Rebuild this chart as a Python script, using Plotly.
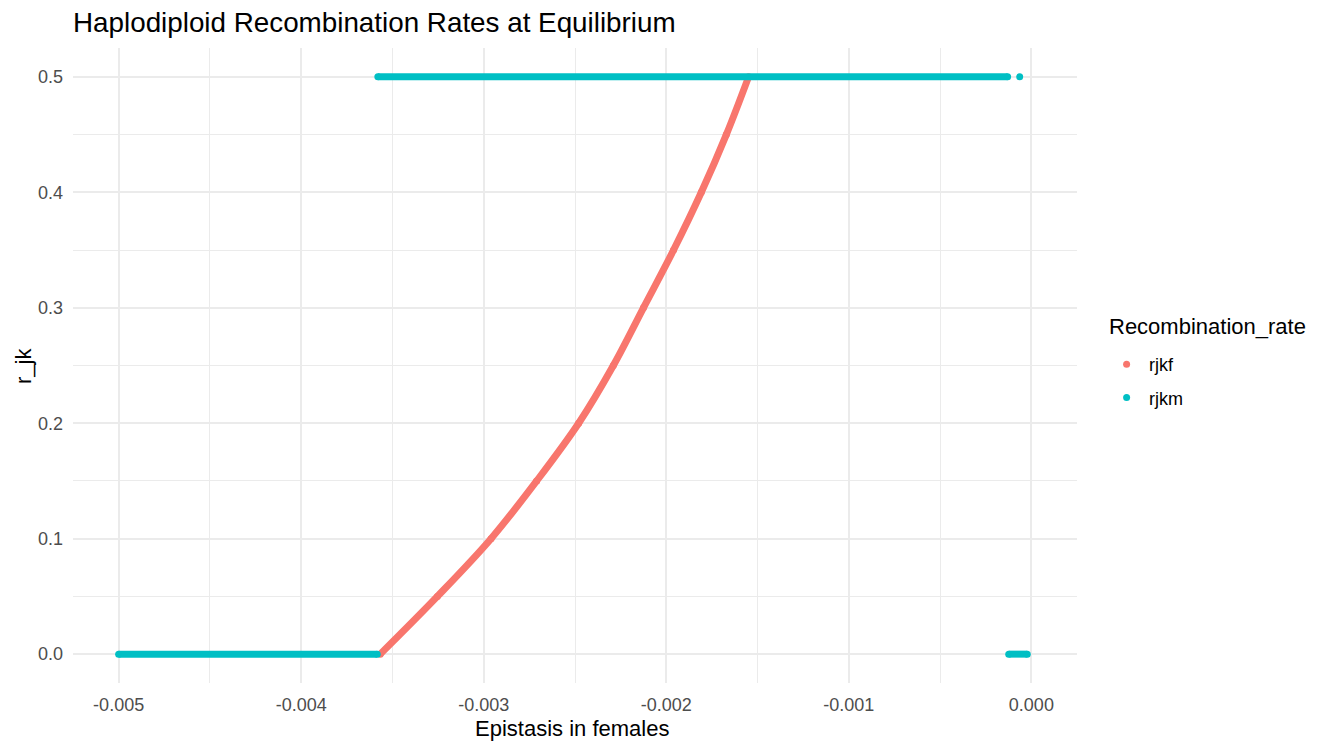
import plotly.graph_objects as go

# ---- data ----
# rjkf: the rising curve (x = epistasis in females, y = r_jk)
rjkf_x = [-0.003567, -0.003254, -0.002960, -0.002710, -0.002480, -0.002290,
          -0.002125, -0.001960, -0.001808, -0.001671, -0.001549]
rjkf_y = [0.0, 0.05, 0.10, 0.15, 0.20, 0.25, 0.30, 0.35, 0.40, 0.45, 0.50]

# rjkm: flat segments (None separates segments)
rjkm_x = [-0.005, -0.003583, None, -0.00358, -0.00013, None, -0.000064, None, -0.000124, -0.0000225]
rjkm_y = [0.0, 0.0, None, 0.5, 0.5, None, 0.5, None, 0.0, 0.0]

series_names = ["rjkf", "rjkm"]
legend_title = "Recombination_rate"
x_title = "Epistasis in females"
y_title = "r_jk"

x_tickvals = [-0.005, -0.004, -0.003, -0.002, -0.001, 0.0]
x_ticktext = ["-0.005", "-0.004", "-0.003", "-0.002", "-0.001", "0.000"]
y_tickvals = [0.0, 0.1, 0.2, 0.3, 0.4, 0.5]
y_ticktext = ["0.0", "0.1", "0.2", "0.3", "0.4", "0.5"]

col_f = "#F8766D"
col_m = "#00BFC4"
FONT = "Liberation Sans, Arial, sans-serif"

# plot-area geometry in pixels
L, R, T, B = 73, 1077, 48, 683

fig = go.Figure()
fig.add_trace(go.Scatter(x=rjkf_x, y=rjkf_y, mode="lines",
                         line=dict(color=col_f, width=7, shape="spline", smoothing=1.0),
                         showlegend=False, legendgroup="f", hoverinfo="skip"))
fig.add_trace(go.Scatter(x=rjkf_x, y=rjkf_y, mode="markers", name=series_names[0],
                         marker=dict(color=col_f, size=7), legendgroup="f"))
fig.add_trace(go.Scatter(x=rjkm_x, y=rjkm_y, mode="lines",
                         line=dict(color=col_m, width=7),
                         showlegend=False, legendgroup="m", hoverinfo="skip"))
fig.add_trace(go.Scatter(x=rjkm_x, y=rjkm_y, mode="markers", name=series_names[1],
                         marker=dict(color=col_m, size=7), legendgroup="m"))

pw, ph = R - L, B - T
fig.add_annotation(text=legend_title, xref="paper", yref="paper",
                   x=(1107 - L) / pw, y=(B - 327) / ph,
                   xanchor="left", yanchor="middle", showarrow=False,
                   font=dict(size=22, color="black", family=FONT))
fig.add_annotation(text=x_title, xref="paper", yref="paper",
                   x=0.497, y=(B - 728) / ph,
                   xanchor="center", yanchor="middle", showarrow=False,
                   font=dict(size=22, color="black", family=FONT))
fig.add_annotation(text=y_title, xref="paper", yref="paper",
                   x=(23 - L) / pw, y=(B - 366) / ph, textangle=-90,
                   xanchor="center", yanchor="middle", showarrow=False,
                   font=dict(size=22, color="black", family=FONT))

fig.update_layout(
    width=1323, height=742,
    margin=dict(l=L, r=1323 - R, t=T, b=742 - B),
    paper_bgcolor="white", plot_bgcolor="white",
    font=dict(family=FONT, color="black"),
    title=dict(text="Haplodiploid Recombination Rates at Equilibrium",
               x=0, xref="paper", xanchor="left",
               y=1 - 22 / 742, yref="container", yanchor="middle",
               font=dict(size=27.8, color="black")),
    legend=dict(font=dict(size=18, color="black"),
                x=1.027, xanchor="left", y=(B - 346) / ph, yanchor="top",
                itemwidth=35,
                tracegroupgap=7, bgcolor="rgba(0,0,0,0)"),
    xaxis=dict(range=[-0.00525, 0.00025], tickvals=x_tickvals, ticktext=x_ticktext,
               showgrid=True, gridcolor="#EBEBEB", gridwidth=2, zeroline=False,
               showline=False, ticks="", tickfont=dict(size=18, color="#4D4D4D"),
               ticklabelstandoff=9, automargin=False,
               minor=dict(tickvals=[-0.0045, -0.0035, -0.0025, -0.0015, -0.0005],
                          showgrid=True, gridcolor="#EBEBEB", gridwidth=1)),
    yaxis=dict(range=[-0.025, 0.525], tickvals=y_tickvals, ticktext=y_ticktext,
               showgrid=True, gridcolor="#EBEBEB", gridwidth=2, zeroline=False,
               showline=False, ticks="", tickfont=dict(size=18, color="#4D4D4D"),
               ticklabelstandoff=9, automargin=False,
               minor=dict(tickvals=[0.05, 0.15, 0.25, 0.35, 0.45],
                          showgrid=True, gridcolor="#EBEBEB", gridwidth=1)),
)

fig.write_html("out.html")
